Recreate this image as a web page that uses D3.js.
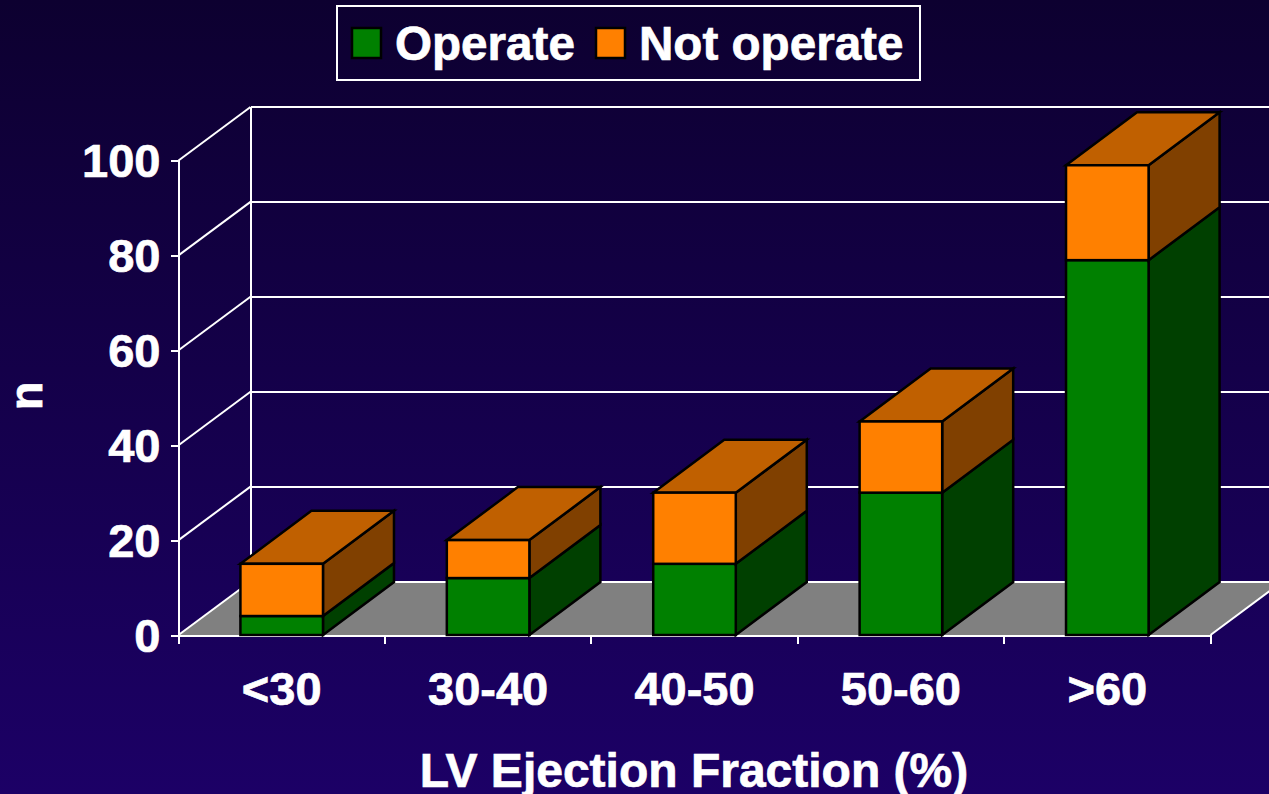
<!DOCTYPE html>
<html>
<head>
<meta charset="utf-8">
<script src="https://cdnjs.cloudflare.com/ajax/libs/d3/7.8.5/d3.min.js"></script>
<style>
html, body { margin: 0; padding: 0; background: #1b0060; overflow: hidden; }
svg { display: block; }
text { font-family: "Liberation Sans", Arial, sans-serif; font-weight: bold; fill: #fff; stroke: #fff; stroke-width: 0.7px; }
.axis text { font-size: 47px; }
.axis line, .axis path { stroke: #fff; stroke-width: 2px; shape-rendering: crispEdges; }
.face { stroke: #000; stroke-width: 2.5px; stroke-linejoin: miter; }
</style>
</head>
<body>
<script>
var categories = ['<30', '30-40', '40-50', '50-60', '>60'];
var operate = [4, 12, 15, 30, 79];
var notOperate = [11, 8, 15, 15, 20];
var yTicks = [0, 20, 40, 60, 80, 100];
var seriesNames = ['Operate', 'Not operate'];

var width = 1269, height = 794;

// 3d offsets, wall depth and bar depth are a bit different
var wallX = 72, wallY = -53.5, barX = 71, barY = -53;

var colors = {
  Operate: {front: '#008000', side: '#004000'},
  'Not operate': {front: '#ff8000', side: '#804000', top: '#c06000'}
};

var x = d3.scaleBand().domain(categories).range([178.5, 1210.5]).paddingInner(0.6).paddingOuter(0.3);
var y = d3.scaleLinear().domain([0, 100]).range([635, 160.5]);

var svg = d3.select('body').append('svg')
  .attr('width', width)
  .attr('height', height);

var defs = svg.append('defs');
var grad = defs.append('linearGradient')
  .attr('id', 'bg')
  .attr('x1', 0).attr('y1', 0).attr('x2', 0).attr('y2', 1);
grad.append('stop').attr('offset', '0%').attr('stop-color', '#0d0030');
grad.append('stop').attr('offset', '100%').attr('stop-color', '#1c0066');

svg.append('rect')
  .attr('width', width)
  .attr('height', height)
  .attr('fill', 'url(#bg)');

function poly(pts) {
  return pts.map(function(p) { return p.join(','); }).join(' ');
}

// floor
var left = x.range()[0], right = x.range()[1], base = y(0);
svg.append('polygon')
  .attr('points', poly([[left, base], [left + wallX, base + wallY], [right + wallX, base + wallY], [right, base]]))
  .attr('fill', '#808080');

// back wall grid lines + the diagonal ones on the left wall
svg.append('g').selectAll('line')
  .data(yTicks)
  .enter().append('line')
  .attr('x1', left + wallX)
  .attr('x2', right + wallX)
  .attr('y1', function(d) { return y(d) + wallY; })
  .attr('y2', function(d) { return y(d) + wallY; })
  .attr('stroke', '#fff').attr('stroke-width', 2).attr('shape-rendering', 'crispEdges');

svg.append('g').selectAll('line')
  .data(yTicks)
  .enter().append('line')
  .attr('x1', left)
  .attr('x2', left + wallX)
  .attr('y1', function(d) { return y(d); })
  .attr('y2', function(d) { return y(d) + wallY; })
  .attr('stroke', '#fff').attr('stroke-width', 2);

svg.append('line')
  .attr('x1', left + wallX).attr('x2', left + wallX)
  .attr('y1', y(100) + wallY).attr('y2', base + wallY)
  .attr('stroke', '#fff').attr('stroke-width', 2).attr('shape-rendering', 'crispEdges');

// right edge of the floor
svg.append('line')
  .attr('x1', right).attr('x2', right + wallX)
  .attr('y1', base).attr('y2', base + wallY)
  .attr('stroke', '#fff').attr('stroke-width', 2);

// axes
var yAxis = d3.axisLeft(y).tickValues(yTicks).tickSize(8).tickPadding(10).tickFormat(d3.format('d'));
var yAxisG = svg.append('g')
  .attr('class', 'axis')
  .attr('transform', 'translate(' + left + ',0)')
  .call(yAxis);
yAxisG.selectAll('text').attr('dy', '0.35em');

var xAxis = d3.axisBottom(x).tickSize(0).tickPadding(37);
svg.append('g')
  .attr('class', 'axis')
  .attr('transform', 'translate(0,' + base + ')')
  .call(xAxis);

// x ticks sit between the categories
var tickX = categories.map(function(c) { return x(c) - x.step() * x.paddingOuter(); });
tickX.push(right);
svg.append('g').selectAll('line')
  .data(tickX)
  .enter().append('line')
  .attr('x1', function(d) { return d; })
  .attr('x2', function(d) { return d; })
  .attr('y1', base)
  .attr('y2', base + 9)
  .attr('stroke', '#fff').attr('stroke-width', 2).attr('shape-rendering', 'crispEdges');

// stack the bars
var rows = categories.map(function(c, i) {
  return {cat: c, Operate: operate[i], 'Not operate': notOperate[i]};
});
var stacked = d3.stack().keys(seriesNames)(rows);

stacked.forEach(function(layer) {
  var col = colors[layer.key];
  var g = svg.append('g');
  layer.forEach(function(d) {
    var x0 = x(d.data.cat), x1 = x0 + x.bandwidth();
    var yb = y(d[0]), yt = y(d[1]);
    // side
    g.append('polygon').attr('class', 'face')
      .attr('points', poly([[x1, yb], [x1 + barX, yb + barY], [x1 + barX, yt + barY], [x1, yt]]))
      .attr('fill', col.side);
    // top, only the upper series shows it
    if (col.top) {
      g.append('polygon').attr('class', 'face')
        .attr('points', poly([[x0, yt], [x0 + barX, yt + barY], [x1 + barX, yt + barY], [x1, yt]]))
        .attr('fill', col.top);
    }
    g.append('rect').attr('class', 'face')
      .attr('x', x0)
      .attr('y', yt)
      .attr('width', x.bandwidth())
      .attr('height', yb - yt)
      .attr('fill', col.front);
  });
});

// legend
svg.append('rect')
  .attr('x', 337).attr('y', 6).attr('width', 583).attr('height', 74)
  .attr('fill', 'none').attr('stroke', '#fff').attr('stroke-width', 2);

var legendX = [352, 596], legendTextX = [395, 639];
seriesNames.forEach(function(name, i) {
  svg.append('rect')
    .attr('x', legendX[i]).attr('y', 28).attr('width', 29).attr('height', 30)
    .attr('fill', colors[name].front)
    .attr('stroke', '#000').attr('stroke-width', 2.5);
  svg.append('text')
    .attr('x', legendTextX[i]).attr('y', 60)
    .style('font-size', '47.6px')
    .text(name);
});

// axis titles
svg.append('text')
  .attr('x', 694).attr('y', 787)
  .attr('text-anchor', 'middle')
  .style('font-size', '48px')
  .text('LV Ejection Fraction (%)');

svg.append('text')
  .attr('transform', 'translate(42,396) rotate(-90)')
  .attr('text-anchor', 'middle')
  .style('font-size', '47px')
  .text('n');
</script>
</body>
</html>
